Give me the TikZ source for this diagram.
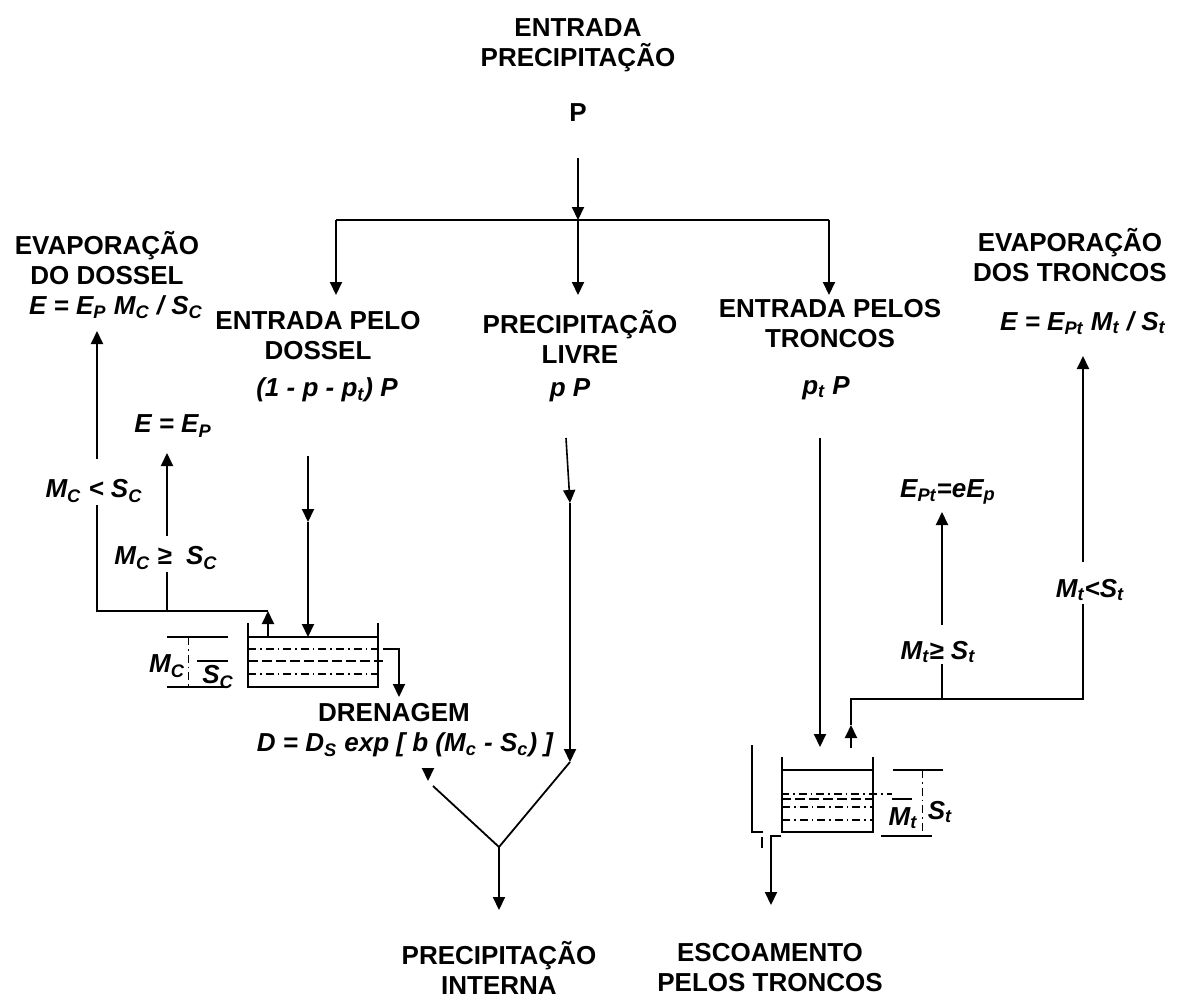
\documentclass[tikz,border=0pt]{standalone}
\usepackage{fontspec}
\setmainfont{Liberation Sans}
\usetikzlibrary{arrows.meta}

\begin{document}
\begin{tikzpicture}[x=0.5pt,y=-0.5pt,
  lbl/.style={font=\fontsize{13}{15}\selectfont\bfseries, align=center, inner sep=1pt},
  frm/.style={font=\fontsize{13}{15}\selectfont\bfseries\itshape, inner sep=1pt},
  arr/.style={line width=1pt, -{Triangle[width=6pt,length=6.5pt]}},
  ln/.style={line width=0.9pt},
  dashdot/.style={line width=0.6pt, dash pattern=on 4pt off 2pt on 0.8pt off 2pt},
  dsh/.style={line width=0.6pt, dash pattern=on 5pt off 2pt}]
\useasboundingbox (0,0) rectangle (1180,1008);

% Input and split
\node[lbl] (title) at (578,45) {ENTRADA\\PRECIPITAÇÃO};
\node[lbl] (pIn) at (578,113) {P};
\coordinate (pTop) at (578,158);
\coordinate (split) at (578,220);
\coordinate (brL) at (336,220);
\coordinate (brR) at (829,220);
\coordinate (inL) at (336,295);
\coordinate (inM) at (578,295);
\coordinate (inR) at (829,295);
\draw[arr] (pTop) -- (split);
\draw[ln] (brL) -- (brR);
\draw[arr] (brL) -- (inL);
\draw[arr] (split) -- (inM);
\draw[arr] (brR) -- (inR);

% Three paths
\node[lbl] (entDossel) at (318,336) {ENTRADA PELO\\DOSSEL};
\node[lbl] (precLivre) at (580,337) {PRECIPITAÇÃO\\LIVRE};
\node[lbl] (entTroncos) at (830,324) {ENTRADA PELOS\\TRONCOS};
\node[frm] (fracDossel) at (327,390) {(1 - p - p\textsubscript{t}) P};
\node[frm] (fracLivre) at (570,390) {p P};
\node[frm] (fracTroncos) at (826,388) {p\textsubscript{t} P};

% Canopy evaporation
\node[lbl] (evapDossel) at (107,258) {EVAPORAÇÃO\\DO DOSSEL};
\node[frm] (eDossel) at (116,307) {E = E\textsubscript{P} M\textsubscript{C} / S\textsubscript{C}};
\node[frm] (eMax) at (173,426) {E = E\textsubscript{P}};
\node[frm] (condLow) at (94,491) {M\textsubscript{C} < S\textsubscript{C}};
\node[frm] (condHigh) at (166,558) {M\textsubscript{C} ≥\ \ S\textsubscript{C}};
\coordinate (cjR) at (268,611);
\coordinate (tankLtop) at (268,637);
\draw[arr, shorten <=9pt, shorten >=4pt] (condLow.north -| 97,0) -- (97,323);
\draw[arr, shorten <=4pt, shorten >=4pt] (condHigh.north -| 167,0) -- (167,445);
\draw[ln] (condLow.south -| 97,0) -- (97,611) -- (cjR);
\draw[ln] (condHigh.south -| 167,0) -- (167,611);
\draw[arr] (tankLtop) -- (cjR);

% Canopy tank
\draw[ln] (248,623) -- (248,687) -- (378,687) -- (378,623);
\draw[ln] (248,637) -- (378,637);
\draw[dashdot] (248,649) -- (383,649);
\draw[dsh] (248,661) -- (383,661);
\draw[dashdot] (248,674) -- (378,674);
\draw[ln] (167,637) -- (228,637);
\draw[ln] (197,661) -- (228,661);
\draw[ln] (167,687) -- (228,687);
\draw[dashdot, line width=0.4pt] (188,637) -- (188,687);
\node[frm] (mcL) at (167,666) {M\textsubscript{C}};
\node[frm] (scL) at (218,677) {S\textsubscript{C}};
\coordinate (canTop) at (308,456);
\coordinate (canMid) at (308,522);
\coordinate (canIn) at (308,637);
\draw[arr] (canTop) -- (canMid);
\draw[arr] (canMid) -- (canIn);

% Drainage
\coordinate (drA) at (383,649);
\coordinate (drB) at (399,697);
\draw[arr] (drA) -| (drB);
\node[lbl] (drenagem) at (394,713) {DRENAGEM};
\node[frm] (drenForm) at (405,745) {D = D\textsubscript{S} exp [ b (M\textsubscript{c} - S\textsubscript{c}) ]};

% Free throughfall and junction
\coordinate (livTop) at (566,438);
\coordinate (livMid) at (570,503);
\coordinate (livEnd) at (570,762);
\coordinate (join) at (499,847);
\coordinate (joinL) at (433,786);
\coordinate (dStem) at (428,775);
\coordinate (dTip) at (428,781);
\coordinate (outI) at (499,910);
\draw[arr, line width=0.8pt] (livTop) -- (livMid);
\draw[arr] (livMid) -- (livEnd);
\draw[ln] (livEnd) -- (join) -- (joinL);
\draw[arr] (dStem) -- (dTip);
\draw[arr] (join) -- (outI);
\node[lbl] (precInterna) at (499,968) {PRECIPITAÇÃO\\INTERNA};

% Stem evaporation
\node[lbl] (evapTroncos) at (1070,255) {EVAPORAÇÃO\\DOS TRONCOS};
\node[frm] (eTroncos) at (1083,323) {E = E\textsubscript{Pt} M\textsubscript{t} / S\textsubscript{t}};
\node[frm] (ePt) at (948,492) {E\textsubscript{Pt}=eE\textsubscript{p}};
\node[frm] (condTHigh) at (938,652) {M\textsubscript{t}≥ S\textsubscript{t}};
\node[frm] (condTLow) at (1090,590) {M\textsubscript{t}<S\textsubscript{t}};
\coordinate (stUp) at (942,625);
\coordinate (stUpTip) at (942,512);
\coordinate (stLow) at (1083,562);
\coordinate (stLowTip) at (1083,356);
\draw[arr] (stUp) -- (stUpTip);
\draw[arr] (stLow) -- (stLowTip);
\coordinate (tjL) at (851,699);
\coordinate (tjM) at (942,699);
\coordinate (tjR) at (1083,699);
\coordinate (tjLow) at (1083,604);
\coordinate (tjHigh) at (942,664);
\coordinate (tOut) at (851,748);
\coordinate (tOutTip) at (851,725);
\draw[ln] (tOutTip) -- (tjL) -- (tjR) -- (tjLow);
\draw[ln] (tjM) -- (tjHigh);
\draw[arr] (tOut) -- (tOutTip);

% Stem tank
\coordinate (stemTop) at (820,438);
\coordinate (stemIn) at (820,747);
\draw[arr] (stemTop) -- (stemIn);
\draw[ln] (782,757) -- (782,832) -- (873,832) -- (873,757);
\draw[ln] (782,770) -- (873,770);
\draw[dashdot] (781,794) -- (892,794);
\draw[dsh] (781,799) -- (873,799);
\draw[dashdot] (782,807) -- (873,807);
\draw[dashdot] (782,820) -- (873,820);
\draw[ln] (893,770) -- (943,770);
\draw[ln] (881,836) -- (932,836);
\draw[ln] (892,799) -- (912,799);
\draw[dashdot, line width=0.4pt] (922,770) -- (922,836);
\node[frm] (mtR) at (903,818) {M\textsubscript{t}};
\node[frm] (stR) at (940,812) {S\textsubscript{t}};

% Stemflow outlet
\draw[ln] (752,745) -- (752,832) -- (763,832);
\draw[ln] (762,837) -- (762,848);
\coordinate (pipeA) at (781,836);
\coordinate (pipeB) at (771,836);
\coordinate (pipeOut) at (771,905);
\draw[arr] (pipeA) -- (pipeB) -- (pipeOut);
\node[lbl] (escoamento) at (770,968) {ESCOAMENTO\\PELOS TRONCOS};

\end{tikzpicture}
\end{document}
